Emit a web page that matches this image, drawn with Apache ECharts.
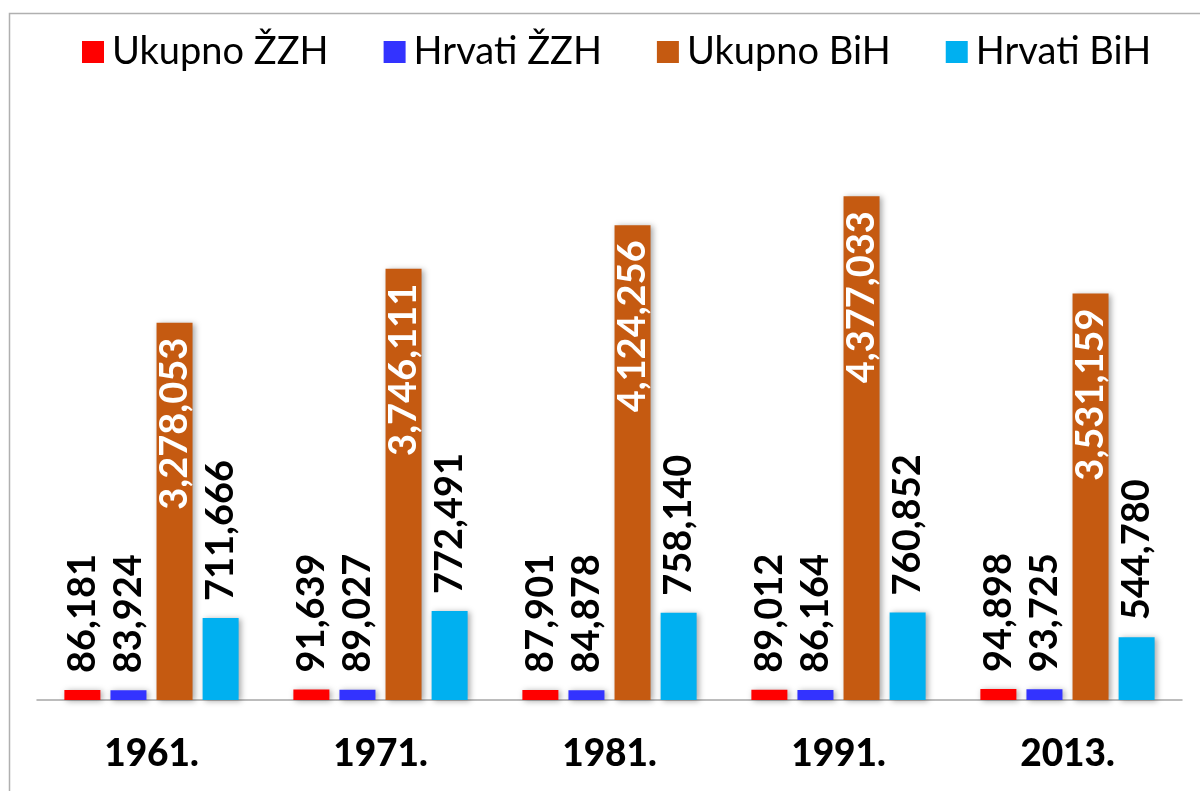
<!DOCTYPE html>
<html>
<head>
<meta charset="utf-8">
<script src="https://cdn.jsdelivr.net/npm/echarts@6/dist/echarts.min.js"></script>
<style>
html,body{margin:0;padding:0;background:#fff;}
#chart{width:1200px;height:791px;}
</style>
</head>
<body>
<div id="chart"></div>
<script>
const categories = ['1961.', '1971.', '1981.', '1991.', '2013.'];
const seriesNames = ['Ukupno ŽZH', 'Hrvati ŽZH', 'Ukupno BiH', 'Hrvati BiH'];
const ukupnoZZH = [86181, 91639, 87901, 89012, 94898];
const hrvatiZZH = [83924, 89027, 84878, 86164, 93725];
const ukupnoBiH = [3278053, 3746111, 4124256, 4377033, 3531159];
const hrvatiBiH = [711666, 772491, 758140, 760852, 544780];

const colors = ['#FF0000', '#3333FF', '#C55A11', '#00B0F0'];
const FONT = 'Lato, "Liberation Sans", sans-serif';
const fmt = p => p.value.toLocaleString('en-US');

const outsideLabel = {
  show: true, position: 'top', rotate: 90, align: 'left', verticalAlign: 'middle',
  distance: 17, color: '#000', fontFamily: FONT, fontWeight: 'bold', fontSize: 38, formatter: fmt
};
const insideLabel = {
  show: true, position: 'insideTop', rotate: 90, align: 'right', verticalAlign: 'middle',
  distance: 15, color: '#fff', fontFamily: FONT, fontWeight: 'bold', fontSize: 38, formatter: fmt
};
const shadow = { shadowBlur: 6, shadowColor: 'rgba(0,0,0,0.35)', shadowOffsetX: 2, shadowOffsetY: 1 };

function mk(name, data, color, label) {
  return {
    name, type: 'bar', data, barWidth: 36, barGap: '28%', barCategoryGap: '24%',
    itemStyle: Object.assign({ color }, shadow),
    label, emphasis: { disabled: true }, animation: false
  };
}

const chart = echarts.init(document.getElementById('chart'), null, { renderer: 'canvas' });
chart.setOption({
  backgroundColor: '#fff',
  animation: false,
  graphic: [{
    type: 'rect', left: 7, top: 11, shape: { width: 1400, height: 1000 },
    style: { fill: 'none', stroke: '#b0b0b0', lineWidth: 1.5 }, silent: true, z: -1
  }],
  legend: {
    left: 77, top: 28, itemWidth: 22, itemHeight: 22, itemGap: 55, icon: 'rect',
    textStyle: { fontFamily: FONT, fontSize: 38, color: '#000', padding: [0, 0, 0, 3] },
    data: seriesNames
  },
  grid: { left: 37, right: 18, top: 124.5, bottom: 91 },
  xAxis: {
    type: 'category', data: categories,
    axisLine: { lineStyle: { color: '#a6a6a6', width: 1.5 } },
    axisTick: { show: false },
    axisLabel: { color: '#000', fontFamily: FONT, fontWeight: 900, fontSize: 37, margin: 36 }
  },
  yAxis: { type: 'value', min: 0, max: 5000000, show: false, splitLine: { show: false } },
  series: [
    mk(seriesNames[0], ukupnoZZH, colors[0], outsideLabel),
    mk(seriesNames[1], hrvatiZZH, colors[1], outsideLabel),
    mk(seriesNames[2], ukupnoBiH, colors[2], insideLabel),
    mk(seriesNames[3], hrvatiBiH, colors[3], outsideLabel)
  ]
});
</script>
</body>
</html>
